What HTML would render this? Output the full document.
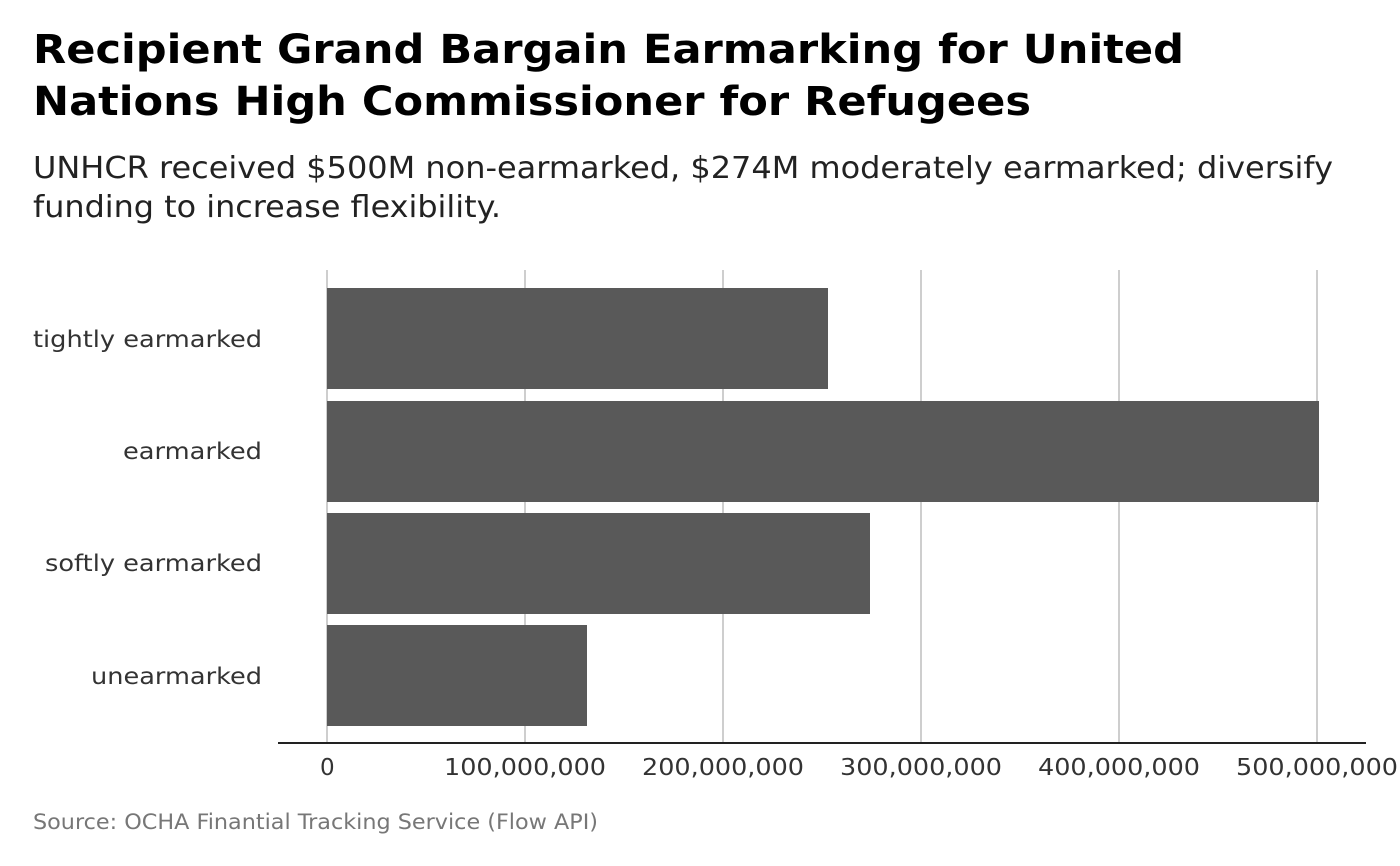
<!DOCTYPE html>
<html><head><meta charset="utf-8"><style>
html,body{margin:0;padding:0;background:#fff;}
svg{display:block;font-family:"DejaVu Sans","Liberation Sans",sans-serif;}
</style></head><body>
<svg width="1400" height="866" viewBox="0 0 1400 866" xmlns="http://www.w3.org/2000/svg">
<rect width="1400" height="866" fill="#fff"/>
<text x="33" y="63" font-size="40" font-weight="bold" fill="#000" textLength="1151" lengthAdjust="spacingAndGlyphs">Recipient Grand Bargain Earmarking for United</text>
<text x="33" y="115" font-size="40" font-weight="bold" fill="#000" textLength="998" lengthAdjust="spacingAndGlyphs">Nations High Commissioner for Refugees</text>
<text x="33" y="178" font-size="30" fill="#222" textLength="1300" lengthAdjust="spacingAndGlyphs">UNHCR received $500M non-earmarked, $274M moderately earmarked; diversify</text>
<text x="33" y="217" font-size="30" fill="#222" textLength="468" lengthAdjust="spacingAndGlyphs">funding to increase flexibility.</text>
<g stroke="#bdbdbd" stroke-width="1.5">
<line x1="327" y1="270" x2="327" y2="742"/>
<line x1="525" y1="270" x2="525" y2="742"/>
<line x1="723" y1="270" x2="723" y2="742"/>
<line x1="921" y1="270" x2="921" y2="742"/>
<line x1="1119" y1="270" x2="1119" y2="742"/>
<line x1="1317" y1="270" x2="1317" y2="742"/>
</g>
<g fill="#595959">
<rect x="327" y="288" width="501" height="101"/>
<rect x="327" y="401" width="992" height="101"/>
<rect x="327" y="513" width="543" height="101"/>
<rect x="327" y="625" width="260" height="101"/>
</g>
<line x1="278" y1="743" x2="1366" y2="743" stroke="#222" stroke-width="2"/>
<g font-size="23" fill="#333">
<text x="33" y="347" textLength="229" lengthAdjust="spacingAndGlyphs">tightly earmarked</text>
<text x="123" y="459" textLength="139" lengthAdjust="spacingAndGlyphs">earmarked</text>
<text x="45" y="571" textLength="217" lengthAdjust="spacingAndGlyphs">softly earmarked</text>
<text x="91" y="684" textLength="171" lengthAdjust="spacingAndGlyphs">unearmarked</text>
</g>
<g font-size="23" fill="#333">
<text x="320" y="775">0</text>
<text x="444" y="775" textLength="162" lengthAdjust="spacingAndGlyphs">100,000,000</text>
<text x="642" y="775" textLength="162" lengthAdjust="spacingAndGlyphs">200,000,000</text>
<text x="840" y="775" textLength="162" lengthAdjust="spacingAndGlyphs">300,000,000</text>
<text x="1038" y="775" textLength="162" lengthAdjust="spacingAndGlyphs">400,000,000</text>
<text x="1236" y="775" textLength="162" lengthAdjust="spacingAndGlyphs">500,000,000</text>
</g>
<text x="33" y="829" font-size="21" fill="#777" textLength="565" lengthAdjust="spacingAndGlyphs">Source: OCHA Finantial Tracking Service (Flow API)</text>
</svg>
</body></html>
